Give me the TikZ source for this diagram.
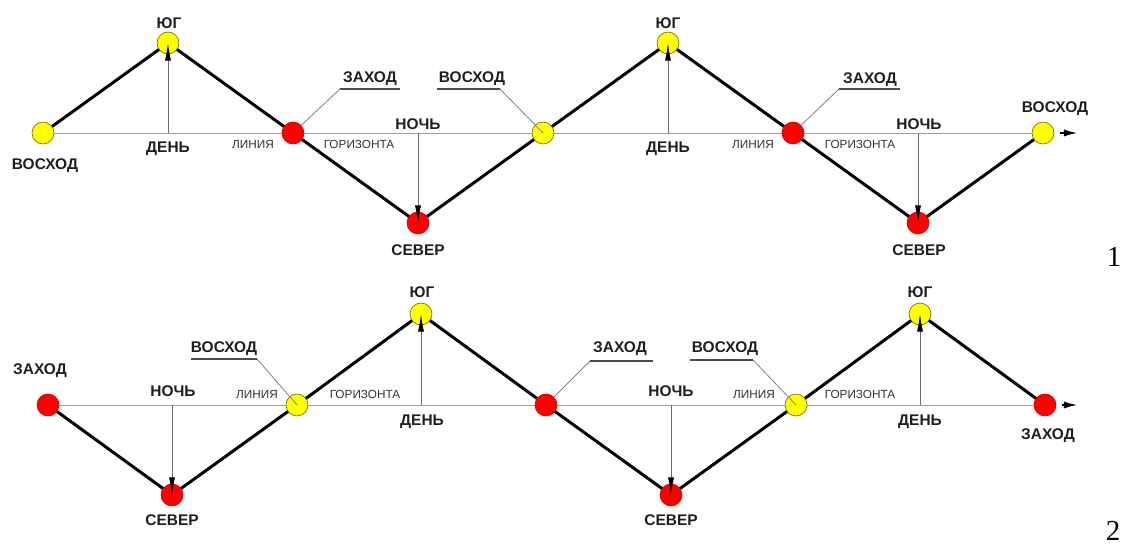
\documentclass[tikz,border=0pt]{standalone}
\usepackage{fontspec}
\setmainfont{Liberation Sans}
\newfontfamily\numfont{Liberation Serif}
\usetikzlibrary{arrows.meta,backgrounds}

\definecolor{sunyel}{HTML}{FFFF00}
\definecolor{sunred}{HTML}{FF0000}

\tikzset{
  dayp/.style={circle, fill=sunyel, draw=olive!80!black, line width=0.4pt, minimum size=12.5pt, inner sep=0pt},
  nightp/.style={circle, fill=sunred, draw=red!85!black, line width=0.4pt, minimum size=12.5pt, inner sep=0pt},
  zig/.style={line width=1.7pt, line join=round},
  horizon/.style={gray!75, line width=0.55pt},
  pole/.style={gray!85!black, line width=0.5pt, -{Latex[length=10pt,width=3.4pt,color=black]}},
  leader/.style={gray, line width=0.45pt},
  uline/.style={black!70, line width=0.6pt},
  endarrow/.style={line width=1.2pt, shorten <=3pt, -{Latex[length=8pt,width=4pt]}},
  lbl/.style={font=\fontsize{8.8}{10}\selectfont\bfseries, text=black!88, inner sep=0pt, text height=6.3pt, text depth=0pt},
  hlbl/.style={font=\fontsize{6.7}{8}\selectfont, text=black!80, inner sep=0pt, text height=4.9pt, text depth=0pt},
  panelnum/.style={font=\fontsize{16.5}{18}\selectfont\numfont, inner sep=0pt},
}

\begin{document}
\begin{tikzpicture}[x=0.02cm, y=-0.02cm]
  \useasboundingbox (0,0) rectangle (1124,550);

  % ---- strip 1 ----
  \node[dayp]   (riseA) at (43,133)   {};
  \node[dayp]   (noonA) at (168,43)   {};
  \node[nightp] (setA)  at (293,133)  {};
  \node[nightp] (midA)  at (418,223)  {};
  \node[dayp]   (riseB) at (543,133)  {};
  \node[dayp]   (noonB) at (668,43)   {};
  \node[nightp] (setB)  at (793,133)  {};
  \node[nightp] (midB)  at (918,223)  {};
  \node[dayp]   (riseC) at (1043,133) {};

  % ---- strip 2 ----
  \node[nightp] (setD)  at (48,405)   {};
  \node[nightp] (midD)  at (172,495)  {};
  \node[dayp]   (riseD) at (297,405)  {};
  \node[dayp]   (noonD) at (421,314)  {};
  \node[nightp] (setE)  at (546,405)  {};
  \node[nightp] (midE)  at (671,495)  {};
  \node[dayp]   (riseE) at (796,405)  {};
  \node[dayp]   (noonE) at (920,314)  {};
  \node[nightp] (setF)  at (1045,405) {};

  % horizon and sun path under the points
  \begin{scope}[on background layer]
    \draw[horizon] (riseA.center) -- (riseC.center);
    \draw[horizon] (setD.center) -- (setF.center);
    \draw[zig] (riseA.center) -- (noonA.center) -- (setA.center) -- (midA.center)
      -- (riseB.center) -- (noonB.center) -- (setB.center) -- (midB.center) -- (riseC.center);
    \draw[zig] (setD.center) -- (midD.center) -- (riseD.center) -- (noonD.center)
      -- (setE.center) -- (midE.center) -- (riseE.center) -- (noonE.center) -- (setF.center);
  \end{scope}

  % feet of the day/night arrows on the horizon
  \coordinate (hA) at (168,133);
  \coordinate (hB) at (418,133);
  \coordinate (hC) at (668,133);
  \coordinate (hD) at (918,133);
  \coordinate (hE) at (172,405);
  \coordinate (hF) at (421,405);
  \coordinate (hG) at (671,405);
  \coordinate (hH) at (920,405);
  \draw[pole] (hA) -- (noonA.center);
  \draw[pole] (hB) -- (midA.center);
  \draw[pole] (hC) -- (noonB.center);
  \draw[pole] (hD) -- (midB.center);
  \draw[pole] (hE) -- (midD.center);
  \draw[pole] (hF) -- (noonD.center);
  \draw[pole] (hG) -- (midE.center);
  \draw[pole] (hH) -- (noonE.center);

  \coordinate (tipC) at (1078,133);
  \coordinate (tipF) at (1078,405);
  \draw[endarrow] (riseC) -- (tipC);
  \draw[endarrow] (setF) -- (tipF);

  % leaders
  \coordinate (kSetA) at (340,89);   \coordinate (eSetA) at (400,89);
  \coordinate (kRiseB) at (500,89);  \coordinate (eRiseB) at (437,89);
  \coordinate (kSetB) at (839,89);   \coordinate (eSetB) at (900,89);
  \coordinate (kRiseD) at (257,359); \coordinate (eRiseD) at (191,359);
  \coordinate (kSetE) at (590,361);  \coordinate (eSetE) at (653,361);
  \coordinate (kRiseE) at (753,360); \coordinate (eRiseE) at (690,360);
  \draw[leader] (setA) -- (kSetA);         \draw[uline] (kSetA) -- (eSetA);
  \draw[leader] (riseB.center) -- (kRiseB); \draw[uline] (kRiseB) -- (eRiseB);
  \draw[leader] (setB) -- (kSetB);         \draw[uline] (kSetB) -- (eSetB);
  \draw[leader] (riseD.center) -- (kRiseD); \draw[uline] (kRiseD) -- (eRiseD);
  \draw[leader] (setE) -- (kSetE);         \draw[uline] (kSetE) -- (eSetE);
  \draw[leader] (riseE.center) -- (kRiseE); \draw[uline] (kRiseE) -- (eRiseE);

  % labels, strip 1
  \node[lbl] (tRiseA) at (45,164) {ВОСХОД};
  \node[lbl] (tNoonA) at (169,23) {ЮГ};
  \node[lbl] (tDayA) at (168,147) {ДЕНЬ};
  \node[hlbl] (tLineA) at (253,144) {ЛИНИЯ};
  \node[hlbl] (tHorA) at (359,144) {ГОРИЗОНТА};
  \node[lbl] (tSetA) at (370,77) {ЗАХОД};
  \node[lbl] (tNightA) at (418,124) {НОЧЬ};
  \node[lbl] (tMidA) at (418,250) {СЕВЕР};
  \node[lbl] (tRiseB) at (472,77) {ВОСХОД};
  \node[lbl] (tNoonB) at (668,23) {ЮГ};
  \node[lbl] (tDayB) at (668,147) {ДЕНЬ};
  \node[hlbl] (tLineB) at (753,144) {ЛИНИЯ};
  \node[hlbl] (tHorB) at (860,144) {ГОРИЗОНТА};
  \node[lbl] (tSetB) at (870,78) {ЗАХОД};
  \node[lbl] (tNightB) at (919,124) {НОЧЬ};
  \node[lbl] (tMidB) at (919,250) {СЕВЕР};
  \node[lbl] (tRiseC) at (1055,107) {ВОСХОД};

  % labels, strip 2
  \node[lbl] (tSetD) at (40,369) {ЗАХОД};
  \node[lbl] (tNightD) at (173,391) {НОЧЬ};
  \node[lbl] (tMidD) at (172,520) {СЕВЕР};
  \node[lbl] (tRiseD) at (224,347) {ВОСХОД};
  \node[hlbl] (tLineD) at (257,394) {ЛИНИЯ};
  \node[hlbl] (tHorD) at (365,394) {ГОРИЗОНТА};
  \node[lbl] (tNoonD) at (422,292) {ЮГ};
  \node[lbl] (tDayD) at (422,420) {ДЕНЬ};
  \node[lbl] (tSetE) at (620,347) {ЗАХОД};
  \node[lbl] (tNightE) at (671,391) {НОЧЬ};
  \node[lbl] (tMidE) at (671,520) {СЕВЕР};
  \node[lbl] (tRiseE) at (725,347) {ВОСХОД};
  \node[hlbl] (tLineE) at (754,394) {ЛИНИЯ};
  \node[hlbl] (tHorE) at (860,394) {ГОРИЗОНТА};
  \node[lbl] (tNoonE) at (920,292) {ЮГ};
  \node[lbl] (tDayE) at (920,420) {ДЕНЬ};
  \node[lbl] (tSetF) at (1048,434) {ЗАХОД};

  % strip numbers
  \node[panelnum] (numA) at (1114,257) {1};
  \node[panelnum] (numB) at (1113,531) {2};
\end{tikzpicture}
\end{document}
